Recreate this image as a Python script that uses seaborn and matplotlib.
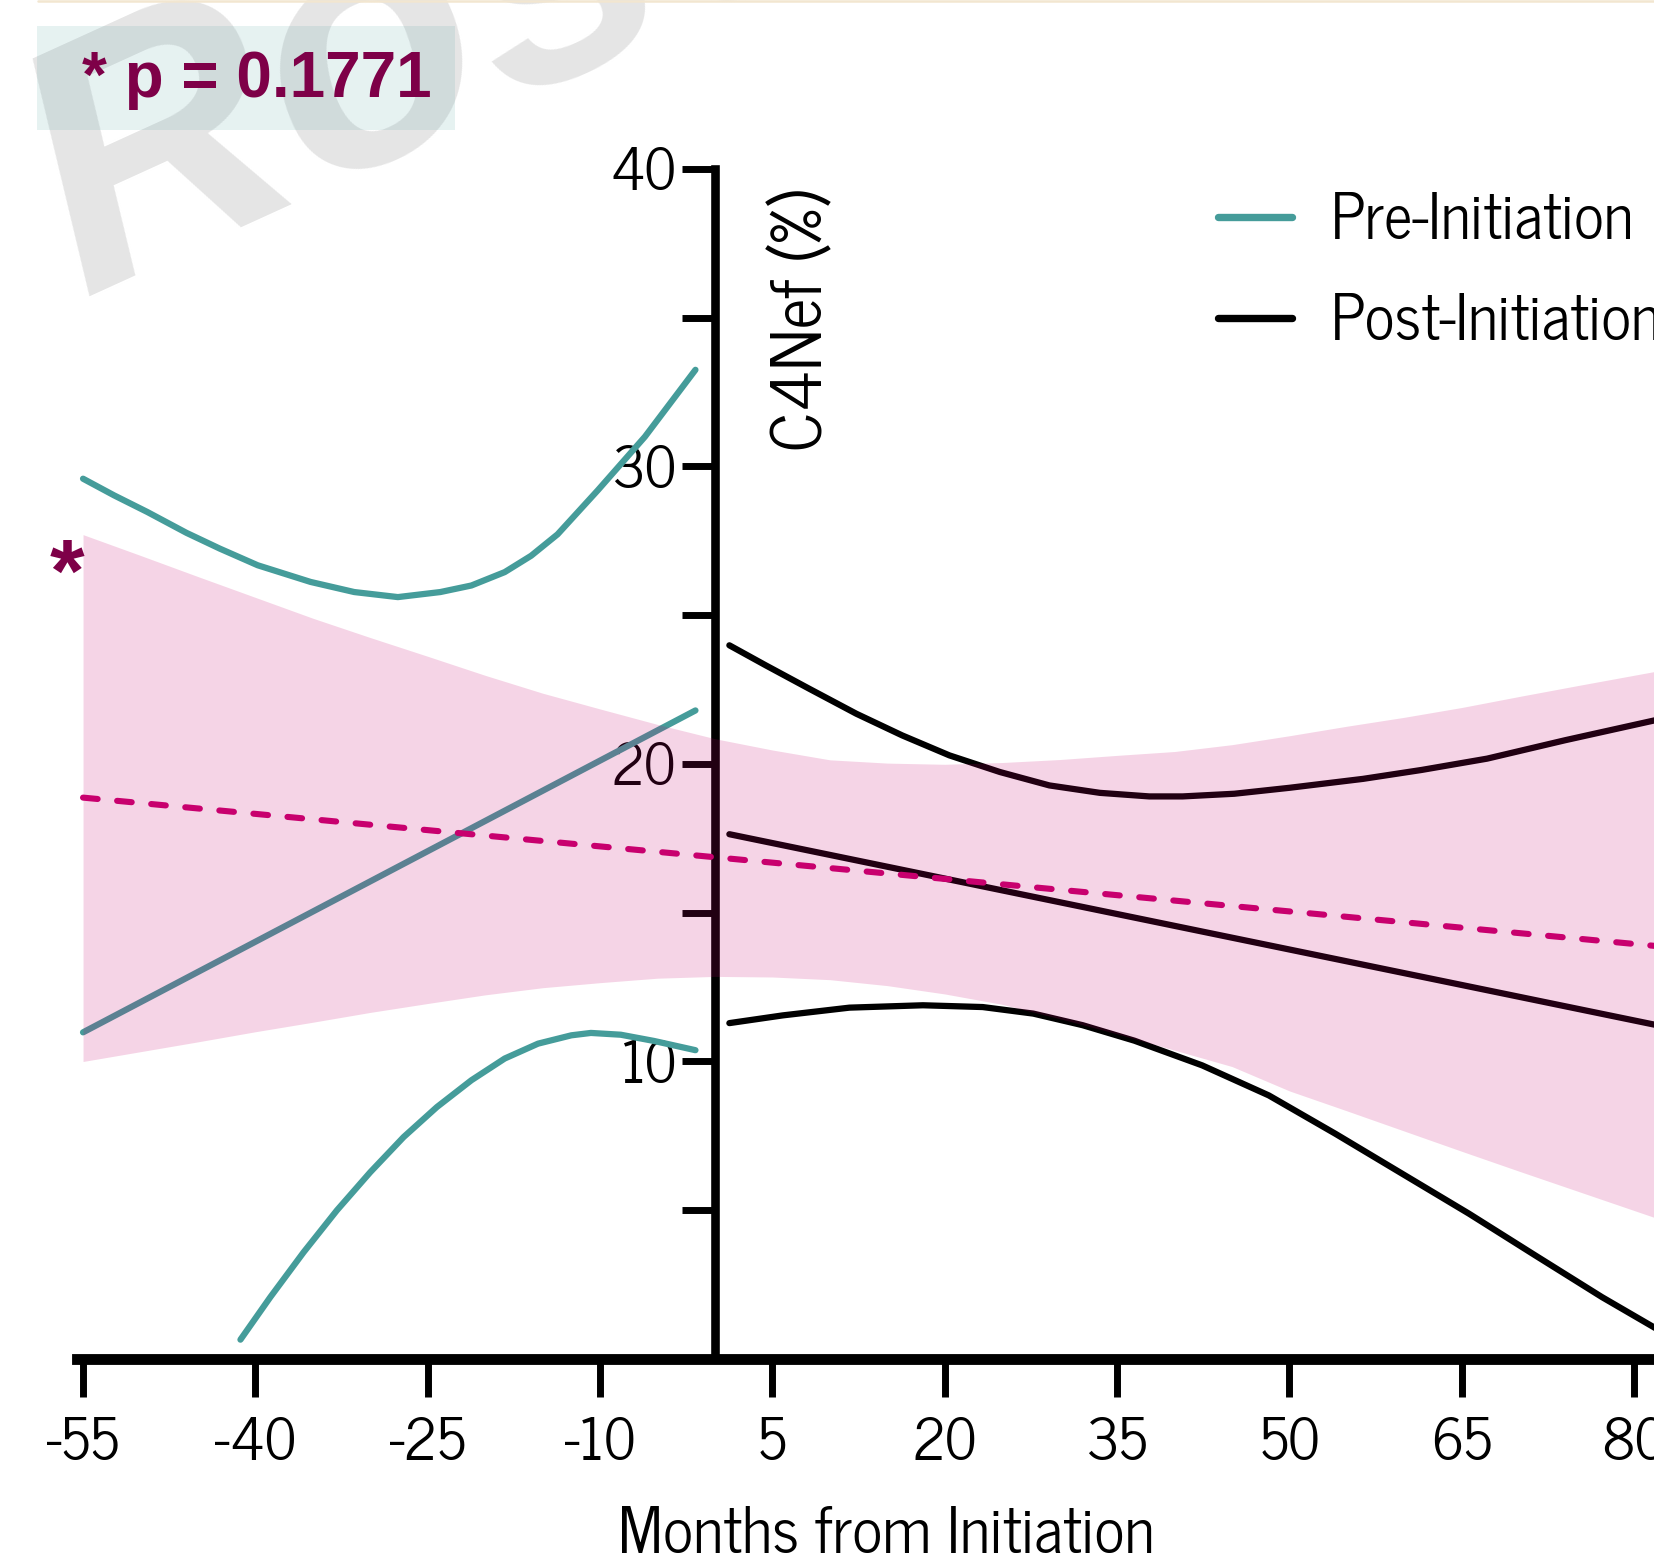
import matplotlib
matplotlib.use("Agg")
import matplotlib.pyplot as plt
from matplotlib.lines import Line2D
from matplotlib.patches import Rectangle
import pandas as pd
import seaborn as sns

# ---------------- data ----------------
x_ticks = [-55, -40, -25, -10, 5, 20, 35, 50, 65, 80]
x_tick_labels = ["-55", "-40", "-25", "-10", "5", "20", "35", "50", "65", "80"]
y_major_ticks = [10, 20, 30, 40]
y_tick_labels = ["10", "20", "30", "40"]
y_minor_ticks = [5, 15, 25, 35]

# Pre-initiation regression fit and its confidence bounds
pre_fit_month = [-55, -1.7]
pre_fit_value = [10.98, 21.8]
pre_upper_month = [-55, -52.3, -49.4, -46.0, -43.1, -39.8, -35.2, -31.4, -27.6, -23.9,
                   -21.2, -18.3, -16.0, -13.7, -10.2, -6.1, -1.7]
pre_upper_value = [29.59, 29.03, 28.47, 27.77, 27.24, 26.68, 26.12, 25.78, 25.61, 25.78,
                   26.0, 26.45, 27.0, 27.72, 29.2, 31.0, 33.25]
pre_lower_month = [-41.3, -38.7, -35.8, -32.9, -30.0, -27.1, -24.2, -21.2, -18.3, -15.4,
                   -12.5, -10.8, -8.2, -5.3, -1.7]
pre_lower_value = [0.65, 2.08, 3.59, 5.0, 6.28, 7.46, 8.47, 9.37, 10.1, 10.6,
                   10.88, 10.96, 10.9, 10.69, 10.38]

# Post-initiation regression fit and its confidence bounds
post_fit_month = [1.25, 82.5]
post_fit_value = [17.64, 11.18]
post_upper_month = [1.25, 4.4, 8.2, 12.3, 16.3, 20.4, 24.8, 29.1, 33.5, 37.8, 40.7,
                    45.2, 50.0, 56.4, 61.5, 67.2, 74.0, 81.7, 82.5]
post_upper_value = [23.99, 23.32, 22.53, 21.69, 20.96, 20.29, 19.73, 19.28, 19.03, 18.91, 18.91,
                    19.0, 19.2, 19.5, 19.8, 20.18, 20.8, 21.46, 21.53]
post_lower_month = [1.25, 5.9, 11.7, 18.1, 23.3, 27.7, 32.0, 36.5, 42.4, 48.2,
                    54.0, 59.8, 65.6, 71.4, 77.2, 81.7, 82.5]
post_lower_value = [11.29, 11.55, 11.81, 11.89, 11.83, 11.61, 11.22, 10.7, 9.87, 8.86,
                    7.57, 6.23, 4.89, 3.48, 2.08, 1.07, 0.88]

# Overall trend (dashed) with its confidence band
trend_month = [-55, 82.5]
trend_value = [18.87, 13.86]
band_month = [-55, -50, -45, -40, -35, -30, -25, -20, -15, -10, -5, 0, 5, 10, 15,
              20, 25, 30, 35, 40, 45, 50, 55, 60, 65, 70, 75, 82.5]
band_upper = [27.71, 27.01, 26.3, 25.6, 24.9, 24.25, 23.62, 22.98, 22.38, 21.85, 21.33, 20.85,
              20.47, 20.14, 20.03, 19.99, 20.05, 20.15, 20.29, 20.42, 20.65, 20.95, 21.27,
              21.57, 21.9, 22.27, 22.63, 23.16]
band_lower = [10.0, 10.33, 10.66, 11.0, 11.32, 11.65, 11.95, 12.24, 12.48, 12.65, 12.8, 12.86,
              12.84, 12.75, 12.55, 12.27, 11.92, 11.44, 10.93, 10.38, 9.83, 9.01, 8.34,
              7.66, 6.98, 6.31, 5.65, 4.66]

phases = ["Pre-Initiation", "Post-Initiation"]
p_text = "* p = 0.1771"

# ---------------- styling ----------------
sns.set_style("ticks")
plt.rcParams["font.family"] = ["News Cycle", "Roboto Condensed", "Liberation Sans", "DejaVu Sans"]
plt.rcParams["axes.unicode_minus"] = False
for key in ("text.color", "axes.labelcolor", "xtick.color", "ytick.color", "axes.edgecolor"):
    plt.rcParams[key] = "black"

TEAL = "#459c9a"
MAGENTA = "#c8006e"
WINE = "#7e0048"
BOLD_FAMILY = ["Liberation Sans", "DejaVu Sans"]

W, H = 1654, 1563
fig = plt.figure(figsize=(W / 100, H / 100), dpi=100, facecolor="white")


def fx(px):
    return px / W


def fy(py):
    return 1 - py / H


ax = fig.add_axes([0.04673, 0.13052, 0.95866, 0.76136])
ax.patch.set_alpha(0)

fits = pd.concat([
    pd.DataFrame({"Month": pre_fit_month, "C4Nef": pre_fit_value, "Phase": phases[0]}),
    pd.DataFrame({"Month": post_fit_month, "C4Nef": post_fit_value, "Phase": phases[1]}),
], ignore_index=True)

bounds = pd.concat([
    pd.DataFrame({"Month": pre_upper_month, "C4Nef": pre_upper_value, "Phase": phases[0], "Bound": "pre_up"}),
    pd.DataFrame({"Month": pre_lower_month, "C4Nef": pre_lower_value, "Phase": phases[0], "Bound": "pre_lo"}),
    pd.DataFrame({"Month": post_upper_month, "C4Nef": post_upper_value, "Phase": phases[1], "Bound": "post_up"}),
    pd.DataFrame({"Month": post_lower_month, "C4Nef": post_lower_value, "Phase": phases[1], "Bound": "post_lo"}),
], ignore_index=True)

palette = {phases[0]: TEAL, phases[1]: "black"}
line_kw = dict(linewidth=4.5, solid_capstyle="round", solid_joinstyle="round", zorder=2)

sns.lineplot(data=bounds, x="Month", y="C4Nef", hue="Phase", units="Bound",
             estimator=None, sort=False, palette=palette, legend=False, ax=ax, **line_kw)
sns.lineplot(data=fits, x="Month", y="C4Nef", hue="Phase", hue_order=phases,
             estimator=None, sort=False, palette=palette, ax=ax, **line_kw)

# translucent band sits over the curves
ax.fill_between(band_month, band_lower, band_upper, color=MAGENTA, alpha=0.17,
                linewidth=0, zorder=3)
ax.plot(trend_month, trend_value, color=MAGENTA, linewidth=4.4,
        linestyle=(0, (2.4, 3.2)), dash_capstyle="round", zorder=4)

# axes
ax.set_xlim(-55.5, 82.5)
ax.set_ylim(0, 40)
ax.spines["top"].set_visible(False)
ax.spines["right"].set_visible(False)
ax.spines["left"].set_position(("data", 0))
ax.spines["left"].set_linewidth(6.2)
ax.spines["bottom"].set_linewidth(7.8)

ax.set_xticks(x_ticks)
ax.set_xticklabels(x_tick_labels)
ax.set_yticks(y_major_ticks)
ax.set_yticklabels(y_tick_labels)
ax.set_yticks(y_minor_ticks, minor=True)
ax.tick_params(axis="x", which="major", bottom=True, direction="out", length=27.7,
               width=5, pad=14, labelsize=41, color="black", labelcolor="black")
ax.tick_params(axis="x", which="minor", bottom=False)
ax.tick_params(axis="y", which="both", left=True, direction="out", length=24, width=5,
               pad=4, labelsize=41, color="black", labelcolor="black")
ax.tick_params(axis="y", which="minor", labelleft=False)
ax.set_xlabel("")
ax.set_ylabel("")
ax.grid(False)

ax.text(9.3, 34.92, "C4Nef (%)", rotation=90, rotation_mode="anchor",
        ha="center", va="baseline", fontsize=49, color="black")
fig.text(fx(886), fy(1553), "Months from Initiation", ha="center", va="baseline",
         fontsize=45.5, color="black")

# legend
handles, labels = ax.get_legend_handles_labels()
leg = ax.legend(handles, labels, loc="upper left", bbox_to_anchor=(fx(1218), fy(192)),
                bbox_transform=fig.transFigure, frameon=False, fontsize=45,
                handlelength=1.18, handletextpad=0.62, labelspacing=0.67,
                borderpad=0, borderaxespad=0)
for h in leg.legend_handles:
    h.set_linewidth(5.3)
    h.set_solid_capstyle("round")

# significance marker
fig.text(fx(67), fy(601), "*", ha="center", va="baseline", fontsize=64,
         fontweight="bold", color=WINE, family=BOLD_FAMILY)

# watermark, p-value box and top rule
fig.text(fx(84), fy(296), "Rose", rotation=24.5, rotation_mode="anchor",
         ha="left", va="baseline", fontsize=252, color="#e5e5e5",
         family="Liberation Sans", fontweight="bold", style="italic", zorder=-1)
fig.add_artist(Rectangle((fx(37), fy(130)), (455 - 37) / W, (130 - 26) / H,
                         transform=fig.transFigure, facecolor=TEAL, alpha=0.13,
                         edgecolor="none", zorder=1))
fig.text(fx(82), fy(97), p_text, ha="left", va="baseline", fontsize=46,
         fontweight="bold", color=WINE, family=BOLD_FAMILY, zorder=2)
fig.add_artist(Line2D([fx(38), 1], [fy(1), fy(1)], transform=fig.transFigure,
                      color="#f2e6d0", linewidth=1.8))

fig.savefig("out.png", dpi=100, facecolor="white")
